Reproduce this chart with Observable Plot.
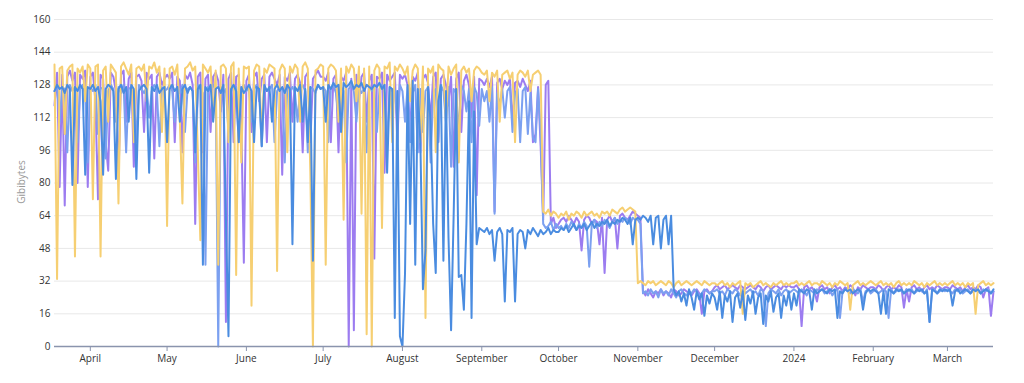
<!DOCTYPE html>
<html>
<head>
<meta charset="utf-8">
<script src="https://cdn.jsdelivr.net/npm/d3@7"></script>
<script src="https://cdn.jsdelivr.net/npm/@observablehq/plot@0.6"></script>
<style>
  html, body { margin: 0; padding: 0; background: #fff; }
  #chart { width: 1024px; height: 383px; }
</style>
</head>
<body>
<div id="chart"></div>
<script>
// Daily values, starting 2023-03-18 (one value per day, through 2024-03-19)
const startDate = "2023-03-18";

const yellowVals = [
  // Mar 18-31
  138,33,136,137,104,135,137,138,44,136,134,137,120,138,
  // Apr
  136,72,137,138,44,135,137,110,138,136,134,70,137,139,136,133,138,100,136,137,135,138,120,137,136,139,134,137,105,136,
  // May
  59,136,137,133,138,110,70,136,137,139,135,137,96,52,138,136,134,137,112,135,40,137,138,136,100,137,139,35,136,90,137,
  // Jun
  136,137,20,135,138,137,100,136,134,138,137,136,37,135,138,136,95,137,134,138,136,110,137,139,136,85,0,135,136,138,
  // Jul
  137,40,136,138,137,135,110,136,62,137,134,138,136,120,137,65,136,6,137,0,135,138,136,58,137,136,139,100,137,135,138,
  // Aug
  136,133,137,120,135,138,136,100,137,14,136,134,137,95,138,136,135,110,137,133,136,138,90,135,137,134,136,120,135,137,136,
  // Sep
  134,133,135,120,134,132,135,110,133,134,135,131,134,100,133,135,134,132,135,125,133,134,135,133,66,65,67,64,66,65,
  // Oct
  63,65,64,66,62,65,64,66,65,63,66,64,65,66,64,65,63,66,65,66,64,67,66,65,67,68,66,67,68,67,66,
  // Nov
  31,32,31,30,32,31,32,30,31,32,31,30,32,31,29,31,32,30,31,32,31,30,31,32,31,30,32,31,30,31,
  // Dec
  31,30,31,32,30,31,29,31,30,31,32,16,31,30,31,29,30,31,32,30,31,30,29,31,30,31,32,30,31,30,31,
  // Jan
  31,32,30,31,30,31,32,30,31,31,30,32,31,30,31,29,31,30,32,31,30,31,18,30,31,32,30,31,30,31,32,
  // Feb
  31,30,31,32,30,31,30,31,29,31,32,30,31,30,31,30,32,31,30,31,29,31,30,31,32,30,31,30,31,
  // Mar
  30,31,32,30,31,30,31,29,31,30,31,16,30,31,32,30,31,30,31
];

const purpleVals = [
  118,134,78,133,69,132,135,130,134,80,133,131,135,78,
  132,134,120,72,133,131,100,86,134,132,125,82,133,135,110,131,134,88,132,133,130,105,134,131,133,92,132,134,128,131,
  133,131,134,100,132,130,95,133,131,134,128,60,132,134,95,131,133,105,132,134,130,115,133,12,131,134,100,132,133,110,41,
  130,133,105,132,134,120,131,133,100,132,134,131,128,133,84,132,130,134,110,131,133,129,95,132,134,100,131,133,135,132,
  132,130,134,100,131,133,95,132,130,134,0,131,8,133,120,132,134,110,130,133,43,132,131,134,85,133,130,132,134,100,133,
  131,133,128,105,132,130,134,95,131,133,129,110,132,134,100,131,133,128,120,132,88,131,134,105,130,133,128,112,132,74,131,
  130,128,131,127,132,66,129,131,126,130,128,131,110,129,130,127,131,128,125,130,100,104,127,98,62,128,130,60,63,58,
  60,62,63,61,64,62,60,63,61,47,62,64,63,60,62,61,50,63,36,62,64,61,63,48,64,65,63,62,64,66,65,
  64,63,27,25,28,26,24,27,26,28,25,27,26,24,28,27,25,26,28,27,26,25,27,28,26,16,27,28,26,27,
  29,30,28,29,30,28,29,30,29,28,30,29,28,29,30,29,28,30,29,27,29,30,28,29,30,29,28,30,29,30,29,
  29,30,28,10,29,30,28,29,27,22,29,30,28,29,26,29,30,28,29,27,29,28,30,29,25,29,28,30,29,28,29,
  29,28,30,29,27,29,30,28,29,28,30,29,19,28,22,29,30,28,29,27,29,30,28,29,28,30,29,28,29,
  29,28,30,29,28,29,27,29,30,28,29,28,30,29,24,28,29,15,27
];

const lightBlueVals = [
  125,128,110,127,126,95,128,125,127,100,126,128,124,90,
  127,125,128,104,126,127,92,125,128,126,110,127,124,128,95,126,127,125,100,128,126,124,127,112,125,128,126,98,127,125,
  126,128,125,110,127,124,128,105,126,127,125,90,128,126,124,40,127,125,128,126,0,127,124,126,105,128,125,127,100,126,128,
  125,127,110,126,128,124,98,127,125,126,128,100,125,127,126,90,128,125,127,124,110,126,128,125,95,127,126,124,128,126,
  127,125,100,126,128,124,112,127,125,90,126,128,125,110,127,124,126,95,128,125,127,105,126,128,124,100,127,125,126,110,128,
  125,110,127,100,124,128,95,126,105,125,127,90,124,126,100,128,125,110,127,88,126,124,105,128,125,115,126,100,127,124,108,
  126,120,125,110,127,65,124,118,126,112,125,127,105,124,126,100,125,127,104,124,102,100,126,105,60,58,59,61,57,60,
  58,59,57,60,58,61,59,57,60,58,61,59,39,60,62,58,61,59,62,60,58,61,63,60,62,61,63,62,60,63,62,
  62,60,26,27,25,28,26,27,24,28,26,27,25,28,26,24,27,28,26,25,27,26,28,27,25,26,28,27,26,27,
  27,28,26,27,25,28,27,26,28,27,25,28,26,27,28,26,27,25,28,27,10,26,28,27,26,28,25,27,28,26,27,
  28,27,26,28,27,25,28,27,26,28,27,28,26,27,28,25,27,28,14,27,28,27,26,28,27,26,28,22,27,28,26,
  27,28,26,27,28,27,14,28,26,27,28,27,26,28,27,28,26,27,28,27,26,28,12,27,28,26,27,28,27,
  28,27,26,28,27,28,26,27,28,26,27,28,27,26,28,27,28,26,27
];

const blueVals = [
  125,128,126,127,124,128,126,79,127,125,128,126,84,127,
  126,128,125,127,120,84,126,128,127,125,82,126,128,124,127,110,128,126,82,125,127,128,126,85,127,125,128,124,126,127,
  100,126,128,125,127,110,126,128,124,127,125,95,126,128,40,127,125,128,110,126,127,124,128,62,5,126,128,125,100,127,124,
  126,128,125,100,127,126,98,128,125,127,110,126,128,125,127,124,128,126,50,127,125,128,110,126,100,127,42,125,128,126,
  127,110,128,126,129,127,128,105,129,127,128,130,126,128,127,129,125,128,127,126,128,127,129,126,128,85,127,126,14,125,5,
  0,36,128,60,130,40,126,100,28,47,127,110,60,36,120,128,42,125,53,8,64,126,34,35,18,60,120,14,115,50,58,
  57,56,58,55,57,42,56,58,55,22,57,56,58,22,55,57,56,48,57,55,58,56,54,57,55,56,58,55,57,56,
  56,58,57,59,56,58,60,57,59,58,60,57,59,61,58,60,59,61,60,62,59,61,60,62,61,63,62,60,63,50,62,
  63,62,64,63,61,64,50,63,64,48,62,64,50,64,28,25,27,22,26,20,28,24,18,27,23,26,15,25,21,26,
  24,18,27,14,25,22,27,12,24,26,19,27,13,25,21,27,16,24,26,11,25,22,27,17,24,26,14,25,20,27,18,
  26,20,28,27,26,28,27,18,28,26,27,28,27,26,28,27,28,14,27,26,28,27,28,26,27,28,27,18,26,28,27,
  28,27,26,16,27,16,28,27,26,28,27,28,26,27,28,27,26,28,27,28,26,27,12,28,27,26,28,27,28,
  27,28,20,27,28,26,27,28,27,26,28,27,28,26,27,28,27,26,28
];

const seriesNames = ["Yellow", "Purple", "LightBlue", "Blue"];
const seriesColors = ["#f6cf72", "#9c7cf0", "#7ba0f0", "#4a8ce0"];
const yTicks = [0, 16, 32, 48, 64, 80, 96, 112, 128, 144, 160];
const xTickDates = ["2023-04-01","2023-05-01","2023-06-01","2023-07-01","2023-08-01","2023-09-01",
                    "2023-10-01","2023-11-01","2023-12-01","2024-01-01","2024-02-01","2024-03-01"];
const xTickLabels = ["April","May","June","July","August","September","October","November","December","2024","February","March"];
const yLabel = "Gibibytes";

const t0 = new Date(startDate + "T00:00:00Z").getTime();
const toRows = (vals) => vals.map((v, i) => ({date: new Date(t0 + i * 864e5), value: v}));
const seriesData = [yellowVals, purpleVals, lightBlueVals, blueVals].map(toRows);
const xTicks = xTickDates.map(s => new Date(s + "T00:00:00Z"));
const labelOf = new Map(xTicks.map((d, i) => [+d, xTickLabels[i]]));

const drawOrder = [1, 2, 0, 3];

const chart = Plot.plot({
  width: 1024,
  height: 383,
  marginLeft: 54,
  marginRight: 31,
  marginTop: 19,
  marginBottom: 37,
  style: {fontFamily: "'Open Sans', 'Noto Sans', sans-serif", fontSize: "10px", color: "#333", background: "#fff"},
  x: {type: "utc", domain: [new Date("2023-03-18T00:00:00Z"), new Date("2024-03-19T00:00:00Z")]},
  y: {domain: [0, 160]},
  marks: [
    Plot.gridY(yTicks, {stroke: "#e8e8e8", strokeOpacity: 1, strokeWidth: 1}),
    Plot.axisY(yTicks, {tickSize: 0, tickPadding: 4, label: null, fill: "#333"}),
    ...drawOrder.map(k => Plot.lineY(seriesData[k], {
      x: "date", y: "value", stroke: seriesColors[k], strokeWidth: 2, strokeLinejoin: "round"
    })),
    Plot.ruleY([0], {stroke: "#8a94ad", strokeWidth: 1.5}),
    Plot.axisX(xTicks, {tickSize: 5, tickPadding: 3, stroke: "#8a94ad", fill: "#333", label: null,
      tickFormat: d => labelOf.get(+d)})
  ]
});

document.getElementById("chart").appendChild(chart);

// Rotated y-axis title
d3.select(chart).append("text")
  .attr("transform", "translate(25,182) rotate(-90)")
  .attr("text-anchor", "middle")
  .attr("fill", "#999")
  .style("font-family", "'Open Sans', 'Noto Sans', sans-serif")
  .style("font-size", "10px")
  .text(yLabel);
</script>
</body>
</html>
